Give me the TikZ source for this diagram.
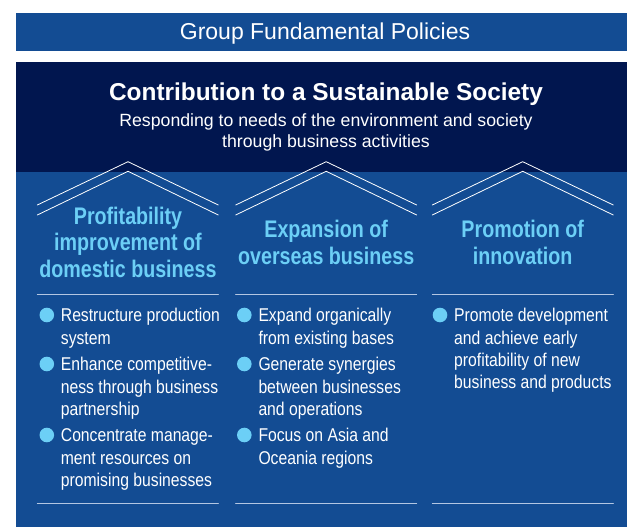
\documentclass[tikz,border=0pt]{standalone}
\usepackage{fontspec}
\setmainfont{Liberation Sans}
\newfontfamily\narrowfont[FakeStretch=0.85]{Liberation Sans}
\newfontfamily\narrowbold[FakeStretch=0.82]{Liberation Sans Bold}
\definecolor{bandblue}{HTML}{134C93}
\definecolor{navy}{HTML}{01164F}
\definecolor{skyblue}{HTML}{6CCFF6}
\definecolor{rulegray}{HTML}{B3C6E2}
% multi-line nodes sit on the baseline of their last line
\tikzset{
  head/.style={text=skyblue,align=center,inner sep=0pt,anchor=base,
    font=\narrowbold\fontsize{24}{26.5}\selectfont},
  item/.style={text=white,align=left,inner sep=0pt,anchor=base west,
    font=\narrowfont\fontsize{18.5}{22.4}\selectfont},
  dot/.style={fill=skyblue,draw=none},
  roof/.style={draw=white,line width=0.8pt},
  rule/.style={draw=rulegray,line width=1pt}
}
\begin{document}
\begin{tikzpicture}[line cap=round,line join=round,x=1pt,y=-1pt]
\useasboundingbox (0,0) rectangle (627,527);
\fill [bandblue] (16,13) rectangle (627,51);
\fill [navy] (16,62) rectangle (627,172);
\fill [bandblue] (16,172) rectangle (627,527);
\node (banner) [text=white,inner sep=0pt,anchor=base,font=\fontsize{23}{26}\selectfont] at (325,40) {Group Fundamental Policies};
\node (title) [text=white,inner sep=0pt,anchor=base,font=\bfseries\fontsize{24.4}{28}\selectfont] at (326,100) {Contribution to a Sustainable Society};
\node (subtitle) [text=white,inner sep=0pt,anchor=base,align=center,font=\fontsize{17.7}{21.3}\selectfont] at (326,147.3) {Responding to needs of the environment and society\\through business activities};
% roofs
\draw [roof] (37.3,205)-- (128,161.7)-- (218.3,205);
\draw [roof] (37.3,215)-- (128,171.3)-- (218.3,215);
\draw [roof] (235.7,205)-- (326.2,161.7)-- (416.7,205);
\draw [roof] (235.7,215)-- (326.2,171.3)-- (416.7,215);
\draw [roof] (432.3,205)-- (522.7,161.7)-- (613.3,205);
\draw [roof] (432.3,215)-- (522.7,171.3)-- (613.3,215);
% headings
\node (domestic) [head] at (128,277) {Profitability\\improvement of\\domestic business};
\node (overseas) [head] at (326.2,264) {Expansion of\\overseas business};
\node (innovation) [head] at (522.7,264) {Promotion of\\innovation};
% rules
\draw [rule] (37.3,294)-- (218.3,294);
\draw [rule] (235.7,294)-- (416.7,294);
\draw [rule] (432.3,294)-- (613.3,294);
\draw [rule] (37.3,503)-- (218.3,503);
\draw [rule] (235.7,503)-- (416.7,503);
\draw [rule] (432.3,503)-- (613.3,503);
% items
\node (dom1) [item] at (60.7,344.1) {Restructure production\\system};
\node (dom2) [item] at (60.7,415.5) {Enhance competitive-\\ness through business\\partnership};
\node (dom3) [item] at (60.7,486.5) {Concentrate manage-\\ment resources on\\promising businesses};
\node (ovs1) [item] at (258.3,344.1) {Expand organically\\from existing bases};
\node (ovs2) [item] at (258.3,415.5) {Generate synergies\\between businesses\\and operations};
\node (ovs3) [item] at (258.3,464.1) {Focus on Asia and\\Oceania regions};
\node (inn1) [item] at (454,388.9) {Promote development\\and achieve early\\profitability of new\\business and products};
\begin{scriptsize}
\draw [dot] (46.8,315) circle (7.3);
\draw [dot] (46.8,364) circle (7.3);
\draw [dot] (46.8,435) circle (7.3);
\draw [dot] (244.3,315) circle (7.3);
\draw [dot] (244.3,364) circle (7.3);
\draw [dot] (244.3,435) circle (7.3);
\draw [dot] (440,315) circle (7.3);
\end{scriptsize}
\end{tikzpicture}
\end{document}
